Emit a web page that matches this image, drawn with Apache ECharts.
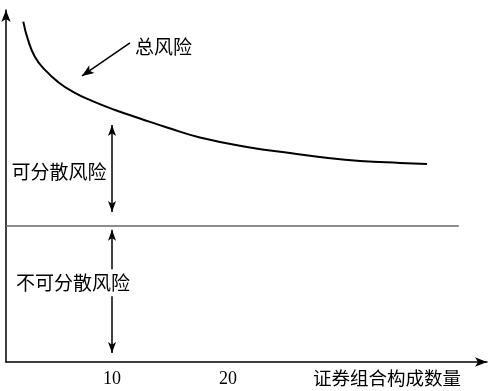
<!DOCTYPE html>
<html><head><meta charset="utf-8">
<script src="https://cdn.jsdelivr.net/npm/echarts@6/dist/echarts.min.js"></script>
<style>html,body{margin:0;padding:0;background:#fff}#c{width:497px;height:391px}</style>
</head><body><div id="c"></div>
<script>
// number of securities in portfolio (x) and total risk (y)
const portfolioSize = [2.35, 2.76, 3.36, 4.22, 5.34, 6.64, 8.27, 10.26, 12.41, 14.74, 17.58, 21.89, 25.34, 28.62, 31.38, 34.83, 37.16];
const totalRisk     = [95.06, 89.94, 85.20, 81.56, 78.21, 75.42, 72.91, 70.39, 68.02, 65.50, 62.71, 59.92, 58.38, 56.98, 56.15, 55.59, 55.31];
const systematicRisk = 38.0;
const systematicEnd = 39.9;
const tickValues = [10, 20];
const arrowX = 10;
const diversifiableRange = [66.2, 41.9];
const nonDiversifiableRange = [36.9, 2.5];
const labels = { total: '总风险', diversifiable: '可分散风险', nonDiversifiable: '不可分散风险', xName: '证券组合构成数量' };
const totalLabelPos = [14.44, 88.0];
const totalArrow = [[11.55, 89.1], [7.41, 79.9]];
const divLabelPos = [5.43, 53.1];
const nonDivLabelPos = [6.64, 22.1];

const cjk = '"Noto Sans CJK SC", sans-serif';
const chart = echarts.init(document.getElementById('c'), null, {renderer: 'canvas'});
const arrowStyle = {color: '#000', width: 1.5, type: 'solid'};
chart.setOption({
  animation: false,
  backgroundColor: '#fff',
  grid: {left: 6, right: 10, top: 10, bottom: 29, outerBoundsMode: 'none'},
  xAxis: {
    type: 'value', min: 0.86, max: 42.33,
    splitLine: {show: false},
    axisTick: {show: false},
    axisLine: {show: true, onZero: false, symbol: ['none', 'arrow'], symbolSize: [7, 12], lineStyle: {color: '#000', width: 1.5}},
    axisLabel: {customValues: tickValues, margin: 8, color: '#000', fontFamily: '"Liberation Serif", serif', fontSize: 18}
  },
  yAxis: {
    type: 'value', min: 0, max: 98.3,
    splitLine: {show: false},
    axisTick: {show: false},
    axisLabel: {show: false},
    axisLine: {show: true, onZero: false, symbol: ['none', 'arrow'], symbolSize: [7, 12], lineStyle: {color: '#000', width: 1.5}}
  },
  series: [
    {
      type: 'line', smooth: 0.5, symbol: 'none',
      data: portfolioSize.map((x, i) => [x, totalRisk[i]]),
      lineStyle: {color: '#000', width: 2},
      markLine: {
        silent: true, animation: false,
        label: {show: false},
        data: [
          [{coord: [0.86, systematicRisk], symbol: 'none', lineStyle: {color: '#666', width: 1.5, type: 'solid'}},
           {coord: [systematicEnd, systematicRisk], symbol: 'none'}],
          [{coord: [arrowX, diversifiableRange[0]], symbol: 'arrow', symbolSize: [6, 11], lineStyle: arrowStyle},
           {coord: [arrowX, diversifiableRange[1]], symbol: 'arrow', symbolSize: [6, 11]}],
          [{coord: [arrowX, nonDiversifiableRange[0]], symbol: 'arrow', symbolSize: [6, 11], lineStyle: arrowStyle},
           {coord: [arrowX, nonDiversifiableRange[1]], symbol: 'arrow', symbolSize: [6, 11]}],
          [{coord: totalArrow[0], symbol: 'none', lineStyle: arrowStyle},
           {coord: totalArrow[1], symbol: 'arrow', symbolSize: [7, 12]}]
        ]
      },
      markPoint: {
        silent: true, symbol: 'circle', symbolSize: 0,
        label: {show: true, color: '#000', fontFamily: cjk, fontSize: 19},
        data: [
          {coord: totalLabelPos, value: labels.total, label: {formatter: labels.total}},
          {coord: divLabelPos, value: labels.diversifiable, label: {formatter: labels.diversifiable}},
          {coord: nonDivLabelPos, value: labels.nonDiversifiable, label: {formatter: labels.nonDiversifiable, backgroundColor: '#fff', padding: [4, 0]}}
        ]
      }
    }
  ],
  graphic: [
    {type: 'text', left: 313, top: 369, style: {text: labels.xName, fill: '#000', font: '18.5px ' + cjk}}
  ]
});
</script></body></html>
